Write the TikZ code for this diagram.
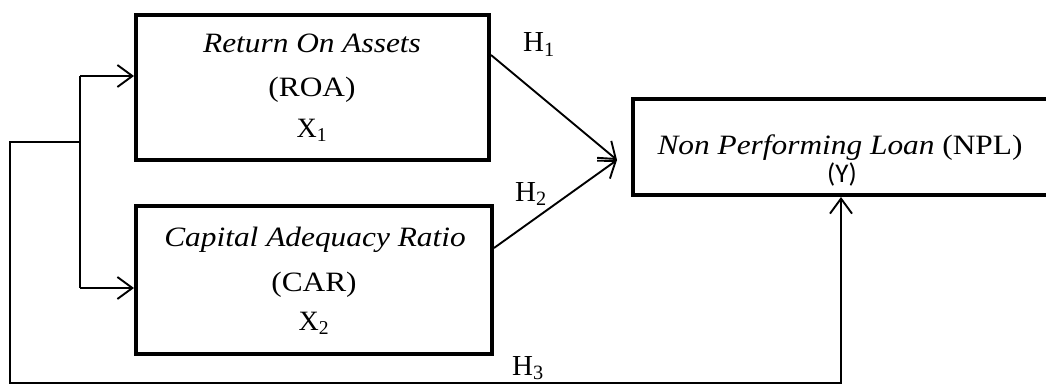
\documentclass[tikz,border=0pt]{standalone}
\usepackage{fontspec}
\setmainfont{Liberation Serif}
\newfontfamily\carlito{Carlito}
\usepackage{graphicx}
\usetikzlibrary{arrows.meta}
\newcommand\widetxt[1]{\scalebox{1.12}[1]{#1}}
\begin{document}
\begin{tikzpicture}[x=1pt,y=-1pt,
  box/.style={draw,line width=4pt,inner sep=0pt},
  conn/.style={line width=1.9pt},
  arr/.style={conn,-{Straight Barb[length=15pt,width=22pt]}},
  txt/.style={anchor=base,inner sep=0pt,font=\fontsize{28}{28}\selectfont},
  hl/.style={anchor=base west,inner sep=0pt,font=\fontsize{29}{29}\selectfont},
  ysans/.style={anchor=base,inner sep=0pt,font=\carlito\fontsize{27}{27}\selectfont}]
\useasboundingbox (0,0) rectangle (1046,385);
\clip (0,0) rectangle (1046,385);
% boxes
\node[box, minimum width=353pt, minimum height=145pt] (roa) at (312.5,87.5) {};
\node[box, minimum width=356pt, minimum height=148pt] (car) at (314,280) {};
\node[box, minimum width=420pt, minimum height=96pt] (npl) at (843,147) {};
% texts
\node[txt] (t1) at (312,53) {\widetxt{\itshape Return On Assets}};
\node[txt] (t2) at (312,97) {\widetxt{(ROA)}};
\node[txt] (t3) at (312,137) {X\textsubscript{1}};
\node[txt] (t4) at (315,246) {\widetxt{\itshape Capital Adequacy Ratio}};
\node[txt] (t5) at (314,291) {\widetxt{(CAR)}};
\node[txt] (t6) at (314,330) {X\textsubscript{2}};
\node[txt] (t7) at (840,154) {\widetxt{\itshape Non Performing Loan \upshape(NPL)}};
\node[ysans] (t8) at (842,182) {(Y)};
% hypothesis labels
\node[hl] (h1) at (523,52) {H\textsubscript{1}};
\node[hl] (h2) at (515,201) {H\textsubscript{2}};
\node[hl] (h3) at (512,375) {H\textsubscript{3}};
% connectors
\coordinate (meet) at (617,160);
\coordinate (bt) at (80,76);
\coordinate (bb) at (80,288);
\coordinate (bl) at (80,142);
\coordinate (c1) at (10,142);
\coordinate (c2) at (10,383);
\coordinate (c3) at (841,383);
\draw[arr] ([yshift=32.5pt]roa.east) -- (meet);
\draw[arr] ([yshift=32pt]car.east) -- (meet);
\draw[conn] (bt) -- (bb);
\draw[arr] (bt) -- (roa.west |- bt);
\draw[arr] (bb) -- (car.west |- bb);
\draw[arr] (bl) -- (c1) -- (c2) -- (c3) -- (c3 |- npl.south);
\end{tikzpicture}
\end{document}
